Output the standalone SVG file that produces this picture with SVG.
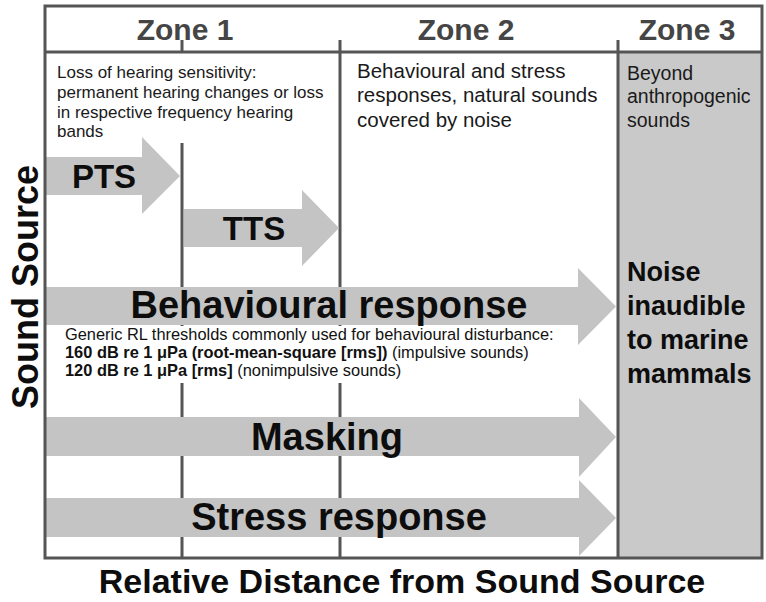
<svg xmlns="http://www.w3.org/2000/svg" width="766" height="602" viewBox="0 0 766 602">
<style>
.ln{stroke:#555;stroke-width:3;fill:none}
.arr{fill:#c4c4c4}
.zone{font-family:"Liberation Sans",Arial,sans-serif;font-weight:bold;font-size:30px;fill:#454545;text-anchor:middle}
.desc{font-family:"Liberation Sans",Arial,sans-serif;font-size:17px;fill:#1a1a1a}
.d2{font-size:20.5px}
.d3{font-size:19.5px}
.gen{font-size:16.4px;fill:#111}
.big{font-family:"Liberation Sans",Arial,sans-serif;font-weight:bold;fill:#0d0d0d;text-anchor:middle}
.nz{font-family:"Liberation Sans",Arial,sans-serif;font-weight:bold;fill:#0d0d0d;font-size:27px}
.b{font-weight:bold}
</style>
<rect width="766" height="602" fill="#fff"/>
<rect x="618" y="52" width="144" height="506" fill="#c9c9c9"/>
<g id="grid">
<line class="ln" x1="182" y1="40" x2="182" y2="52"/>
<line class="ln" x1="182" y1="143" x2="182" y2="558"/>
<line class="ln" x1="340" y1="40" x2="340" y2="558"/>
<line class="ln" x1="618" y1="40" x2="618" y2="558"/>
<line class="ln" x1="45" y1="52" x2="762" y2="52"/>
</g>
<g id="zone-headers">
<text class="zone" x="185" y="40">Zone 1</text>
<text class="zone" x="466" y="40">Zone 2</text>
<text class="zone" x="687" y="40">Zone 3</text>
</g>
<g id="zone1-desc">
<text class="desc" x="57" y="78">Loss of hearing sensitivity:</text>
<text class="desc" x="57" y="98">permanent hearing changes or loss</text>
<text class="desc" x="57" y="117.5">in respective frequency hearing</text>
<text class="desc" x="57" y="137">bands</text>
</g>
<g id="zone2-desc">
<text class="desc d2" x="357" y="78">Behavioural and stress</text>
<text class="desc d2" x="357" y="102">responses, natural sounds</text>
<text class="desc d2" x="357" y="126.5">covered by noise</text>
</g>
<g id="zone3-desc">
<text class="desc d3" x="627" y="80">Beyond</text>
<text class="desc d3" x="627" y="103">anthropogenic</text>
<text class="desc d3" x="627" y="126.5">sounds</text>
</g>
<g id="connectors">
<g id="pts">
<polygon class="arr" points="46,157 142,157 142,137 180,176 142,214 142,195 46,195"/>
<text class="big" x="104" y="188" font-size="33">PTS</text>
</g>
<g id="tts">
<polygon class="arr" points="184,209 302,209 302,190 339,228 302,266 302,247 184,247"/>
<text class="big" x="254" y="240" font-size="33">TTS</text>
</g>
<g id="behavioural">
<polygon class="arr" points="46,287 578,287 578,268 616,306.5 578,345 578,325 46,325"/>
<text class="big" x="329" y="318" font-size="38">Behavioural response</text>
</g>
<g id="masking">
<polygon class="arr" points="46,417 579,417 579,398 616,437 579,477 579,456 46,456"/>
<text class="big" x="327" y="450" font-size="38">Masking</text>
</g>
<g id="stress">
<polygon class="arr" points="46,498 579,498 579,480 616,518 579,556 579,537 46,537"/>
<text class="big" x="339" y="530" font-size="38">Stress response</text>
</g>
</g>
<g id="thresholds">
<rect x="58" y="326" width="516" height="57" fill="#fff"/>
<text class="desc gen" x="65" y="340">Generic RL thresholds commonly used for behavioural disturbance:</text>
<text class="desc gen" x="65" y="358"><tspan class="b">160 dB re 1 μPa (root-mean-square [rms])</tspan> (impulsive sounds)</text>
<text class="desc gen" x="65" y="376"><tspan class="b">120 dB re 1 μPa [rms]</tspan> (nonimpulsive sounds)</text>
</g>
<g id="noise-inaudible">
<text class="nz" x="627" y="281">Noise</text>
<text class="nz" x="627" y="315">inaudible</text>
<text class="nz" x="627" y="349">to marine</text>
<text class="nz" x="627" y="383">mammals</text>
</g>
<g id="frame">
<rect class="ln" x="45" y="6" width="717" height="552"/>
</g>
<g id="axes">
<text class="big" x="402" y="593" font-size="34">Relative Distance from Sound Source</text>
<text class="big" transform="translate(38,287) rotate(-90)" font-size="36">Sound Source</text>
</g>
</svg>
